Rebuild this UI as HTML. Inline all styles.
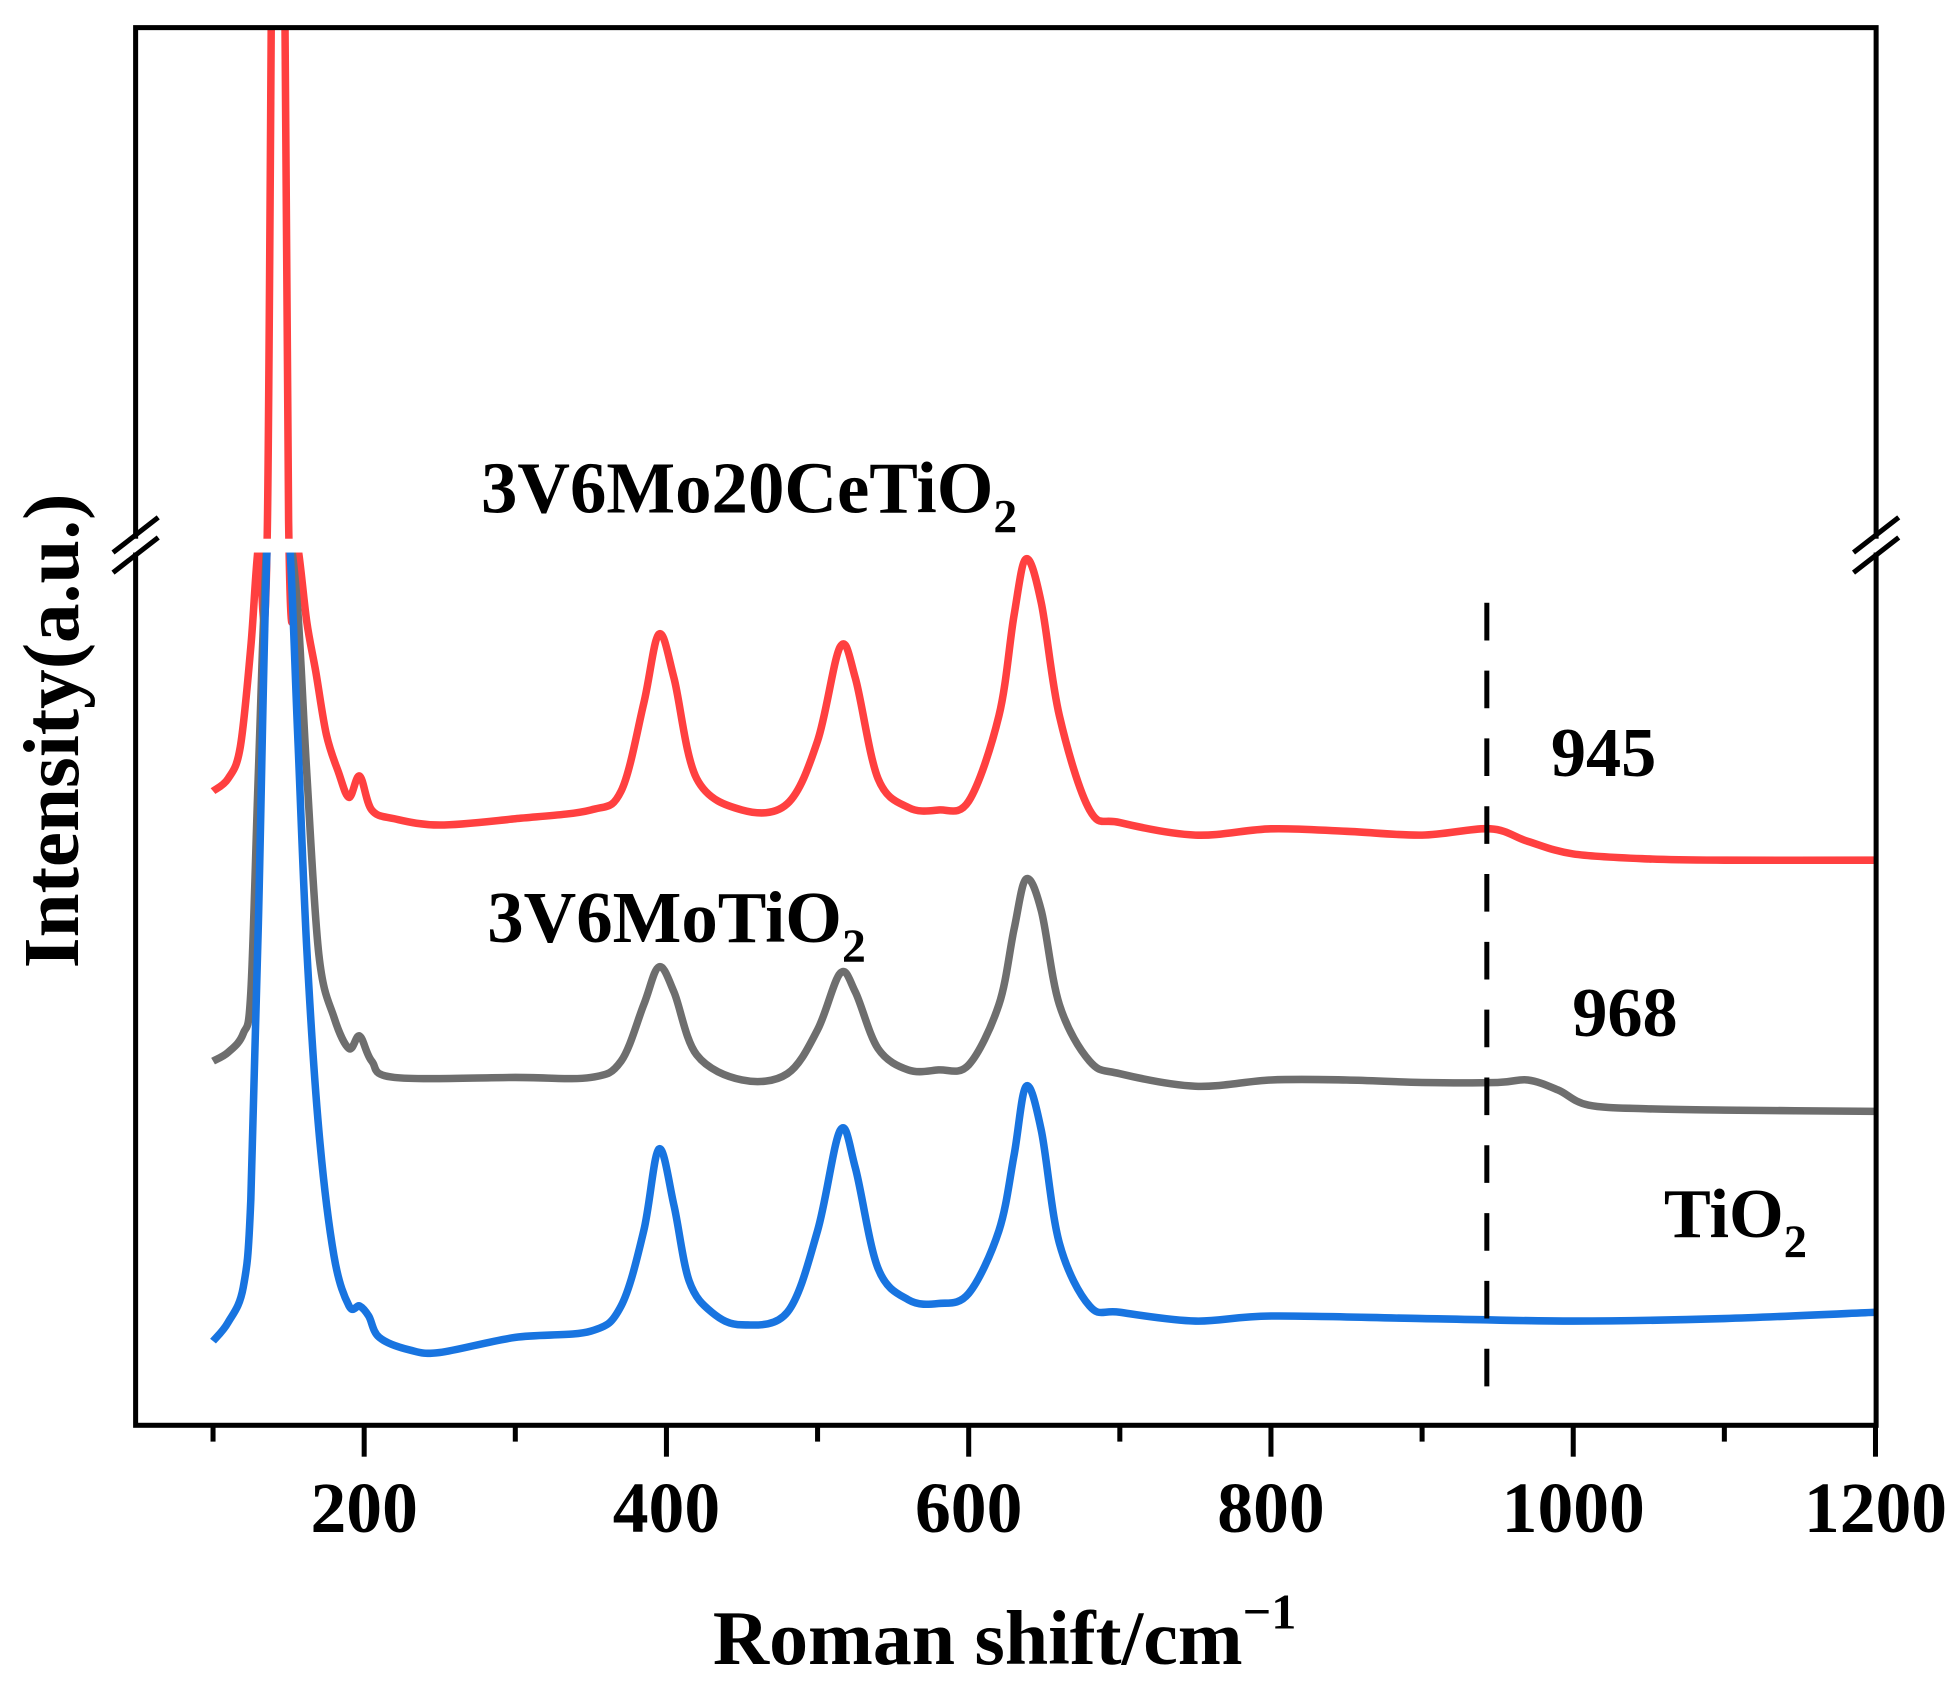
<!DOCTYPE html>
<html><head><meta charset="utf-8"><style>html,body{margin:0;padding:0;background:#fff}svg{display:block}text{font-family:"Liberation Serif",serif;font-weight:bold;fill:#000}</style></head>
<body>
<svg id="chart" width="1959" height="1689" viewBox="0 0 1560 1345" preserveAspectRatio="none" xmlns="http://www.w3.org/2000/svg">
<defs>
<clipPath id="clipLow"><rect x="108" y="440" width="1386" height="695"/></clipPath>
<clipPath id="clipAll"><rect x="108" y="22" width="1386" height="1113"/></clipPath>
</defs>
<g id="series"></g>
<rect x="100" y="429" width="1400" height="11" fill="#fff"/>
<line x1="1184" y1="480" x2="1184" y2="1128" stroke="#000" stroke-width="4" stroke-dasharray="30 24"/>
<rect x="108" y="22" width="1386" height="1113" fill="none" stroke="#000" stroke-width="4"/>
<rect x="104" y="429" width="8" height="11" fill="#fff"/>
<rect x="1490" y="429" width="8" height="11" fill="#fff"/>
<g stroke="#000" stroke-width="4">
<line x1="90" y1="440" x2="126" y2="412"/><line x1="90" y1="456" x2="126" y2="428"/>
<line x1="1476" y1="440" x2="1512" y2="412"/><line x1="1476" y1="456" x2="1512" y2="428"/>
</g>
<g id="xticks"></g>
<text x="800" y="1325" font-size="62" text-anchor="middle">Roman shift/cm<tspan dy="-28" font-size="40">−1</tspan></text>
<text transform="translate(62,582) rotate(-90)" font-size="63" text-anchor="middle">Intensity(a.u.)</text>
<text x="383" y="408" font-size="58">3V6Mo20CeTiO<tspan dy="16" font-size="38">2</tspan></text>
<text x="388" y="750" font-size="58">3V6MoTiO<tspan dy="16" font-size="38">2</tspan></text>
<text x="1325" y="985" font-size="56">TiO<tspan dy="16" font-size="37">2</tspan></text>
<text x="1235" y="618" font-size="56">945</text>
<text x="1252" y="825" font-size="56">968</text>
</svg>
<script>
const xTicks=[100,200,300,400,500,600,700,800,900,1000,1100,1200];
const xTickLabels=["","200","","400","","600","","800","","1000","","1200"];
const shiftsBlue=[100,110,120,125,130,136,143,150,156,162,170,180,190,197,203,210,230,250,300,350,370,385,395,405,415,430,450,480,500,515,525,540,560,580,600,620,630,638,648,660,680,700,750,800,900,1000,1100,1200];
const tio2=[67,82,110,180,400,750,950,800,550,380,235,135,95,95,87,70,60,58,70,75,95,155,220,175,115,90,80,90,155,235,205,125,100,97,105,155,215,270,235,145,95,90,83,87,85,83,85,90];
const shiftsGrey=[100,110,120,125,130,136,143,150,156,162,170,180,190,197,205,220,300,350,370,385,395,405,420,450,480,500,515,525,540,560,580,600,620,630,638,648,660,680,700,750,800,850,900,950,970,990,1010,1050,1100,1200];
const v6mo=[290,297,312,345,520,780,1000,800,650,520,375,325,300,310,290,277,277,277,290,335,365,345,295,275,280,315,360,345,300,283,283,287,335,395,435,410,335,290,280,270,275,275,273,273,275,267,255,252,251,250];
const shiftsRed=[100,110,118,125,130,136,143,150,156,162,168,175,183,190,197,205,220,250,300,350,370,385,395,405,420,450,480,500,515,525,540,560,580,600,620,630,638,648,660,680,700,750,800,850,900,945,970,1000,1050,1100,1200];
const ce=[505,515,540,620,720,820,6000,820,720,640,600,550,520,500,517,490,483,478,483,490,505,575,630,595,515,490,495,545,620,595,515,492,490,497,565,645,690,655,565,490,480,470,475,473,470,475,465,455,451,450,450];
const X=v=>290+(v-200)*1.2035;
const Y=v=>v<=695?1135-v:440-(v-695)*0.2;
const svg=document.getElementById('chart'),NS='http://www.w3.org/2000/svg';
function path(xs,ys){const p=xs.map((x,i)=>[X(x),Y(ys[i])]);let d='M'+p[0][0]+','+p[0][1];
for(let i=0;i<p.length-1;i++){const p0=p[i-1]||p[i],p1=p[i],p2=p[i+1],p3=p[i+2]||p2;
d+=' C'+(p1[0]+(p2[0]-p0[0])/6)+','+(p1[1]+(p2[1]-p0[1])/6)+' '+(p2[0]-(p3[0]-p1[0])/6)+','+(p2[1]-(p3[1]-p1[1])/6)+' '+p2[0]+','+p2[1];}return d;}
const g=document.getElementById('series');
[[shiftsRed,ce,'#ff4040','clipAll','series-3v6mo20cetio2'],[shiftsGrey,v6mo,'#6e6e6e','clipLow','series-3v6motio2'],[shiftsBlue,tio2,'#1874e0','clipLow','series-tio2']].forEach(s=>{
const el=document.createElementNS(NS,'path');el.setAttribute('d',path(s[0],s[1]));el.setAttribute('fill','none');el.setAttribute('stroke',s[2]);el.setAttribute('stroke-width','6');el.setAttribute('stroke-linejoin','round');el.setAttribute('clip-path','url(#'+s[3]+')');


g.appendChild(el);});
const t=document.getElementById('xticks');
xTicks.forEach((v,i)=>{const major=xTickLabels[i]!=='';const l=document.createElementNS(NS,'line');l.setAttribute('x1',X(v));l.setAttribute('x2',X(v));l.setAttribute('y1',1135);l.setAttribute('y2',major?1160:1148);l.setAttribute('stroke','#000');l.setAttribute('stroke-width','4');


t.appendChild(l);
if(major){const tx=document.createElementNS(NS,'text');tx.setAttribute('x',X(v));tx.setAttribute('y',1220);tx.setAttribute('font-size','57');tx.setAttribute('text-anchor','middle');tx.textContent=xTickLabels[i];


t.appendChild(tx);}});
</script>
</body></html>
